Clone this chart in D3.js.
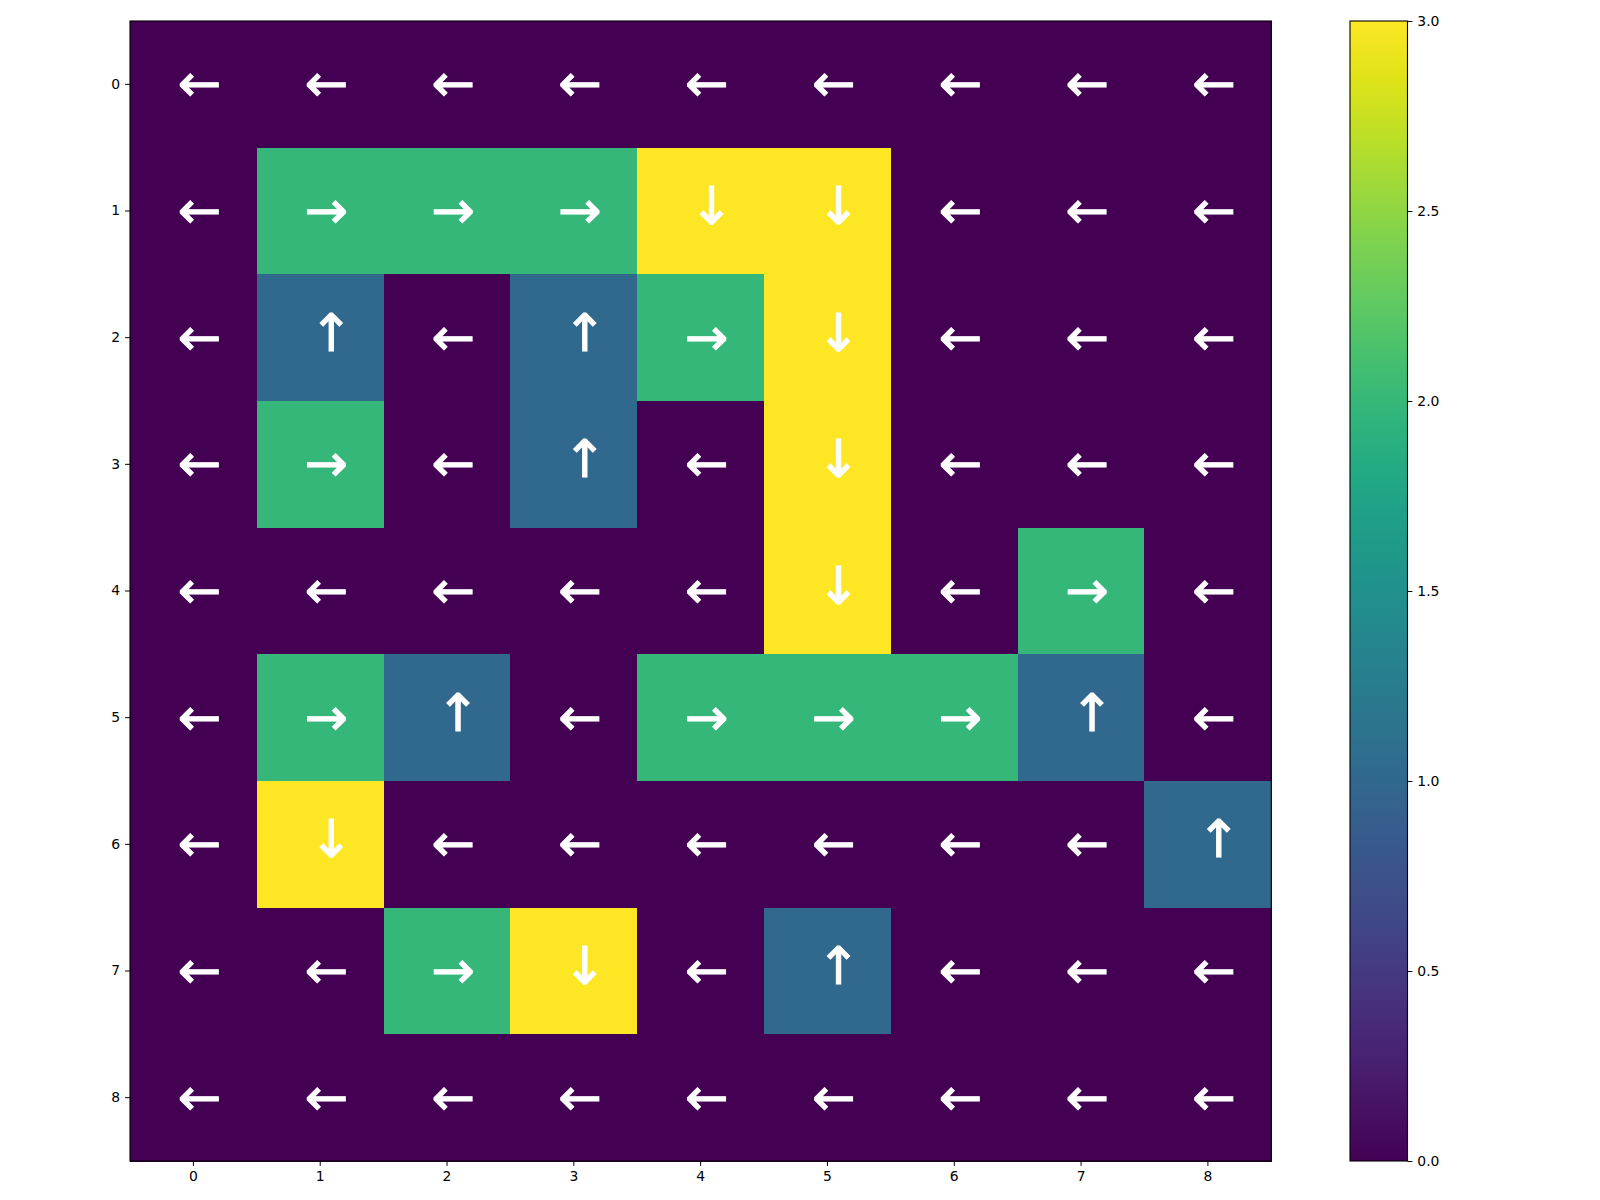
<!DOCTYPE html>
<html><head><meta charset="utf-8">
<script src="https://cdn.jsdelivr.net/npm/d3@7"></script>
<style>body{margin:0;background:#fff}svg{display:block}text{font-family:"DejaVu Sans",sans-serif}</style>
</head><body>
<svg id="c" width="1600" height="1200"></svg>
<script>
const rows = [0,1,2,3,4,5,6,7,8];
const cols = [0,1,2,3,4,5,6,7,8];
const grid = [
  [0,0,0,0,0,0,0,0,0],
  [0,2,2,2,3,3,0,0,0],
  [0,1,0,1,2,3,0,0,0],
  [0,2,0,1,0,3,0,0,0],
  [0,0,0,0,0,3,0,2,0],
  [0,2,1,0,2,2,2,1,0],
  [0,3,0,0,0,0,0,0,1],
  [0,0,2,3,0,1,0,0,0],
  [0,0,0,0,0,0,0,0,0]
];
const arrows = ["←","↑","→","↓"];
const cbTicks = [0,0.5,1,1.5,2,2.5,3];

const svg = d3.select("#c");
const L=130,T=21,R=1271.3,B=1161;
const x = d3.scaleBand().domain(cols).range([L,R]).padding(0);
const y = d3.scaleBand().domain(rows).range([T,B]).padding(0);
const color = d3.scaleSequential(d3.interpolateViridis).domain([0,3]);
// glyph-specific nudge (matplotlib centres on ink extent)
const nudge = v => (v===0||v===2) ? [6,-1] : [11,-5];

const cells = [];
grid.forEach((r,i)=>r.forEach((v,j)=>cells.push({i,j,v})));
svg.append("g").attr("shape-rendering","crispEdges").selectAll("rect").data(cells).join("rect")
  .attr("x",d=>x(d.j)).attr("y",d=>y(d.i))
  .attr("width",x.bandwidth()+1).attr("height",y.bandwidth()+1)
  .attr("fill",d=>color(d.v));
svg.append("g").selectAll("text").data(cells).join("text")
  .attr("x",d=>x(d.j)+x.bandwidth()/2+nudge(d.v)[0]).attr("y",d=>y(d.i)+y.bandwidth()/2+nudge(d.v)[1])
  .attr("text-anchor","middle").attr("dominant-baseline","central")
  .attr("fill","white").attr("font-size",52).attr("font-weight","normal")
  .attr("stroke","white").attr("stroke-width",1)
  .text(d=>arrows[d.v]);
svg.append("rect").attr("x",L).attr("y",T).attr("width",R-L).attr("height",B-T)
  .attr("fill","none").attr("stroke","black").attr("stroke-width",1.1);

const xa = svg.append("g").attr("transform",`translate(0,${B})`)
  .call(d3.axisBottom(x).tickSize(4.9).tickPadding(4.9));
xa.select(".domain").remove();
const ya = svg.append("g").attr("transform",`translate(${L},0)`)
  .call(d3.axisLeft(y).tickSize(4.9).tickPadding(4.9));
ya.select(".domain").remove();
[xa,ya].forEach(a=>a.selectAll("text").attr("font-size",13.9).attr("fill","black").attr("font-family","DejaVu Sans"));

// colorbar
const CL=1350,CR=1407.5;
const cy = d3.scaleLinear().domain([0,3]).range([B,T]);
const defs = svg.append("defs");
const grad = defs.append("linearGradient").attr("id","g").attr("x1",0).attr("y1",1).attr("x2",0).attr("y2",0);
d3.range(0,1.0001,0.05).forEach(t=>grad.append("stop").attr("offset",t).attr("stop-color",d3.interpolateViridis(t)));
svg.append("rect").attr("x",CL).attr("y",T).attr("width",CR-CL).attr("height",B-T).attr("fill","url(#g)")
  .attr("stroke","black").attr("stroke-width",1.1);
const ca = svg.append("g").attr("transform",`translate(${CR},0)`)
  .call(d3.axisRight(cy).tickValues(cbTicks).tickFormat(d3.format(".1f")).tickSize(4.9).tickPadding(4.9));
ca.select(".domain").remove();
ca.selectAll("text").attr("font-size",13.9).attr("fill","black").attr("font-family","DejaVu Sans");
</script>
</body></html>
